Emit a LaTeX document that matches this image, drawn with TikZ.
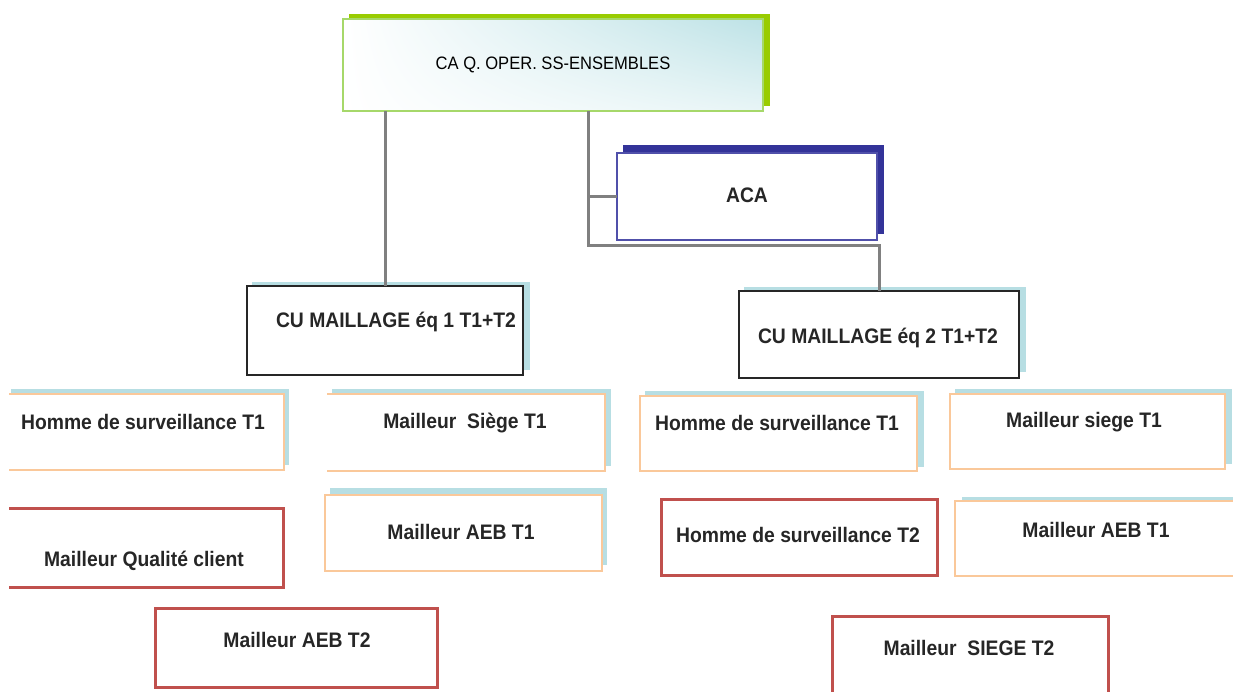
\documentclass[tikz,border=0pt]{standalone}
\usepackage{fontspec}
\usetikzlibrary{shadings}
\newfontfamily\narrowfont{Liberation Sans}[FakeStretch=0.92]
\definecolor{shcyan}{HTML}{B7DEE3}
\definecolor{orangeb}{HTML}{FAC89A}
\definecolor{redb}{HTML}{C0504D}
\definecolor{greenb}{HTML}{99CC00}
\definecolor{greenl}{HTML}{A6D86A}
\definecolor{navy}{HTML}{333399}
\definecolor{navyl}{HTML}{5050AA}
\definecolor{conncol}{HTML}{808080}
\definecolor{gradcyan}{HTML}{BDE2E6}
\tikzset{
  boxbase/.style={inner sep=0pt, outer sep=0pt, fill=white},
  txt/.style={inner sep=0pt, font=\narrowfont\bfseries\fontsize{21}{24}\selectfont, text=black!85},
  conn/.style={draw=conncol, line width=3pt},
  orangeline/.style={draw=orangeb, line width=1.8pt},
  redline/.style={draw=redb, line width=3pt},
}
\begin{document}
\begin{tikzpicture}[x=1pt,y=-1pt]
\useasboundingbox (0,0) rectangle (1233,691);
\begin{scope}
\clip (0,0) rectangle (1233,691);
% ---------- top box ----------
\fill[greenb] (349,14) rectangle (770,106);
\node[inner sep=0pt, outer sep=0pt, upper right=gradcyan, upper left=white, lower left=white, lower right=gradcyan!35,
  draw=greenl, line width=1.5pt,
  minimum width=420pt, minimum height=92pt,
  font=\narrowfont\fontsize{18}{21}\selectfont] (top) at (553,65) {CA Q. OPER. SS-ENSEMBLES};
% ---------- ACA ----------
\fill[navy] (623,145) rectangle (884,234);
\node[boxbase, draw=navyl, line width=1.3pt, minimum width=260pt, minimum height=87pt] (aca) at (747,196.5) {};
\node[txt] (acat) at (747,195) {ACA};
% ---------- CU 1 ----------
\fill[shcyan] (252,282) rectangle (530,370);
\node[boxbase, draw=black!85, line width=1.3pt, minimum width=276pt, minimum height=89pt] (cu1) at (385,330.5) {};
\node[txt] (cu1t) at (396,322) {CU MAILLAGE éq 1 T1+T2};
% ---------- CU 2 ----------
\fill[shcyan] (744,287) rectangle (1026,372);
\node[boxbase, draw=black!85, line width=1.3pt, minimum width=280pt, minimum height=87pt] (cu2) at (879,334.5) {};
\node[txt] (cu2t) at (878,338) {CU MAILLAGE éq 2 T1+T2};
% ---------- connectors ----------
\coordinate (bend) at (588,245);
\draw[conn] (top.south -| cu1.north) -- (cu1.north);
\draw[conn] (top.south -| bend) -- (bend) -| (cu2.north);
\draw[conn] (aca.west -| bend) -- (aca.west);
% ---------- left group ----------
\fill[shcyan] (11,389) rectangle (289,465);
\node[boxbase, minimum width=275pt, minimum height=76pt] (h1l) at (146.5,432) {};
\draw[orangeline] (h1l.north west) -- (h1l.north east) -- (h1l.south east) -- (h1l.south west);
\node[txt] (h1lt) at (143,422) {Homme de surveillance T1};

\node[boxbase, minimum width=274pt, minimum height=79pt] (mqc) at (146,547.5) {};
\draw[redline] (mqc.north west) -- (mqc.north east) -- (mqc.south east) -- (mqc.south west);
\node[txt] (mqct) at (144,561) {Mailleur Qualité client};

\fill[shcyan] (332,389) rectangle (611,466);
\node[boxbase, minimum width=278pt, minimum height=77pt] (ms1) at (466,432.5) {};
\draw[orangeline] (ms1.north west) -- (ms1.north east) -- (ms1.south east) -- (ms1.south west);
\node[txt] (ms1t) at (465,423) {Mailleur~ Siège T1};

\fill[shcyan] (330,488) rectangle (607,565);
\node[boxbase, draw=orangeb, line width=1.8pt, minimum width=277pt, minimum height=76pt] (ma1) at (463.5,533) {};
\node[txt] (ma1t) at (461,532) {Mailleur AEB T1};

\node[boxbase, redline, minimum width=282pt, minimum height=79pt] (ma2) at (296,647.5) {};
\node[txt] (ma2t) at (297,640) {Mailleur AEB T2};
% ---------- right group ----------
\fill[shcyan] (645,391) rectangle (924,467);
\node[boxbase, draw=orangeb, line width=1.8pt, minimum width=277pt, minimum height=75pt] (h1r) at (778.5,433.5) {};
\node[txt] (h1rt) at (777,423) {Homme de surveillance T1};

\fill[shcyan] (955,389) rectangle (1232,464);
\node[boxbase, draw=orangeb, line width=1.8pt, minimum width=275pt, minimum height=75pt] (msr) at (1087.5,431.5) {};
\node[txt] (msrt) at (1084,422) {Mailleur siege T1};

\node[boxbase, redline, minimum width=276pt, minimum height=76pt] (h2r) at (799,537) {};
\node[txt] (h2rt) at (798,535) {Homme de surveillance T2};

\fill[shcyan] (962,497) rectangle (1240,570);
\node[boxbase, minimum width=285pt, minimum height=75pt] (mar) at (1097.5,538.5) {};
\draw[orangeline] (mar.north east) -- (mar.north west) -- (mar.south west) -- (mar.south east);
\node[txt] (mart) at (1096,530) {Mailleur AEB T1};

\node[boxbase, minimum width=276pt, minimum height=84pt] (mst2) at (970,658) {};
\draw[redline] (mst2.south west) -- (mst2.north west) -- (mst2.north east) -- (mst2.south east);
\node[txt] (mst2t) at (969,648) {Mailleur~ SIEGE T2};
\end{scope}
\end{tikzpicture}
\end{document}
